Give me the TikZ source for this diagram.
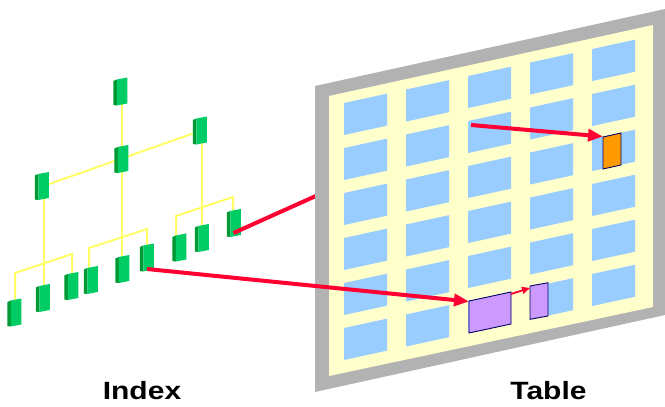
\documentclass[tikz,border=0pt]{standalone}
\usepackage{fontspec}
\setmainfont{Liberation Sans}
\usetikzlibrary{calc,arrows.meta}

\definecolor{gfrontc}{HTML}{00CC66}
\definecolor{gsidec}{HTML}{009933}
\definecolor{linkc}{HTML}{FFFF66}
\definecolor{ptrc}{HTML}{FF0033}
\definecolor{framec}{HTML}{B2B2B2}
\definecolor{sheetc}{HTML}{FFFFCC}
\definecolor{cellc}{HTML}{99CCFF}
\definecolor{hitc}{HTML}{FF9900}
\definecolor{rowc}{HTML}{CC99FF}
\definecolor{edgec}{HTML}{000066}

% 3D index block drawn on top of an invisible named node
\newcommand\leafbox[1]{%
  \fill[gsidec] ($(#1.north west)+(-3.5,2.5)$) -- ($(#1.north west)+(0,1)$)
     -- ($(#1.south west)+(0,1)$) -- ($(#1.south west)+(-3.5,0.5)$) -- cycle;
  \fill[gfrontc] ($(#1.north west)+(0,1)$) -- ($(#1.north east)+(0,-1)$)
     -- ($(#1.south east)+(0,-1)$) -- ($(#1.south west)+(0,1)$) -- cycle;}

\begin{document}
\begin{tikzpicture}[x=1pt,y=-1pt,
  gbox/.style={inner sep=0pt, outer sep=0pt, minimum width=10.5pt, minimum height=26pt},
  link/.style={draw=linkc, line width=2pt},
  wire/.style={draw=ptrc, line width=4pt},
  ptr/.style={draw=ptrc, line width=4pt, -{Triangle[length=15pt,width=12pt]}},
  shortptr/.style={draw=ptrc, line width=1.8pt, -{Triangle[length=8pt,width=7pt]}},
  record/.style={draw=edgec, line width=0.9pt},
  caption/.style={anchor=base, inner sep=0pt, font=\fontsize{25}{30}\selectfont\bfseries}]

\useasboundingbox (0,0) rectangle (665,407);

% index blocks (positions only)
\node[gbox] (root)   at (122,91.5) {};
\node[gbox] (mid)    at (123,159) {};
\node[gbox] (right2) at (201.5,130.5) {};
\node[gbox] (left2)  at (43.5,186) {};
\node[gbox] (leaf1)  at (16,312.5) {};
\node[gbox] (leaf2)  at (44.5,298) {};
\node[gbox] (leaf3)  at (73,286) {};
\node[gbox] (leaf4)  at (92.5,280) {};
\node[gbox] (leaf5)  at (124,269) {};
\node[gbox] (leaf6)  at (148.5,257.5) {};
\node[gbox] (leaf7)  at (181,247.5) {};
\node[gbox] (leaf8)  at (203.5,238) {};
\node[gbox] (leaf9)  at (235.5,223) {};

% bar ends of the leaf groups
\coordinate (la) at (15,273);  \coordinate (lb) at (72,254);
\coordinate (ma) at (89,248);  \coordinate (mb) at (147,229);
\coordinate (ra) at (176,216); \coordinate (rb) at (233,197);

% tree links
\draw[link] (root.center) -- (root.center |- leaf5.center);
\draw[link] (left2.center) -- (right2.center);
\draw[link] (left2.center) -- (left2.center |- leaf2.center);
\draw[link] (right2.center) -- (right2.center |- leaf8.center);
\draw[link] (leaf1.center -| la) -- (la) -- (lb) -- (leaf3.center -| lb);
\draw[link] (leaf4.center -| ma) -- (ma) -- (mb) -- (leaf6.center -| mb);
\draw[link] (leaf7.center -| ra) -- (ra) -- (rb) -- (leaf9.center -| rb);

% blocks
\foreach \b in {root,mid,right2,left2,leaf1,leaf2,leaf3,leaf4,leaf5,leaf6,leaf7,leaf8,leaf9}
  {\leafbox{\b}}

% pointer into the table sheet
\coordinate (sheetedge) at (318,195);
\draw[wire] ($(leaf9.south)+(-2,-3)$) -- (sheetedge);

% table sheet
\fill[framec] (315,86) -- (665,9) -- (665,315) -- (315,392) -- cycle;
\fill[sheetc] (329,96) -- (653,25) -- (653,307) -- (329,376) -- cycle;
\foreach \i in {0,...,4}
  \foreach \j in {0,...,5}
    \fill[cellc] ({344+62*\i},{103+45*\j-13.485*\i}) -- ++(43,-9.35) -- ++(0,32) -- ++(-43,9.35) -- cycle;

% highlighted records
\filldraw[record, fill=hitc] (603,137) -- (621,133) -- (621,165) -- (603,169) -- cycle;
\filldraw[record, fill=rowc] (469,301) -- (511,292) -- (511,324) -- (469,333) -- cycle;
\filldraw[record, fill=rowc] (530,286) -- (548,282.7) -- (548,316) -- (530,319.3) -- cycle;
\coordinate (hit) at (603,136.5);
\coordinate (hitsrc) at (471,125);
\coordinate (rowa) at (469,301.5);
\coordinate (rowaout) at (511,294);
\coordinate (rowb) at (530,288);

% pointers
\draw[ptr] (hitsrc) -- (hit);
\draw[ptr] ($(leaf6.south)+(-1.5,-1.5)$) -- (rowa);
\draw[shortptr] (rowaout) -- (rowb);

% captions
\node[caption] (idx) at (142,399) {\scalebox{1.2}[1]{Index}};
\node[caption] (tbl) at (548.5,399) {\scalebox{1.2}[1]{Table}};
\end{tikzpicture}
\end{document}
